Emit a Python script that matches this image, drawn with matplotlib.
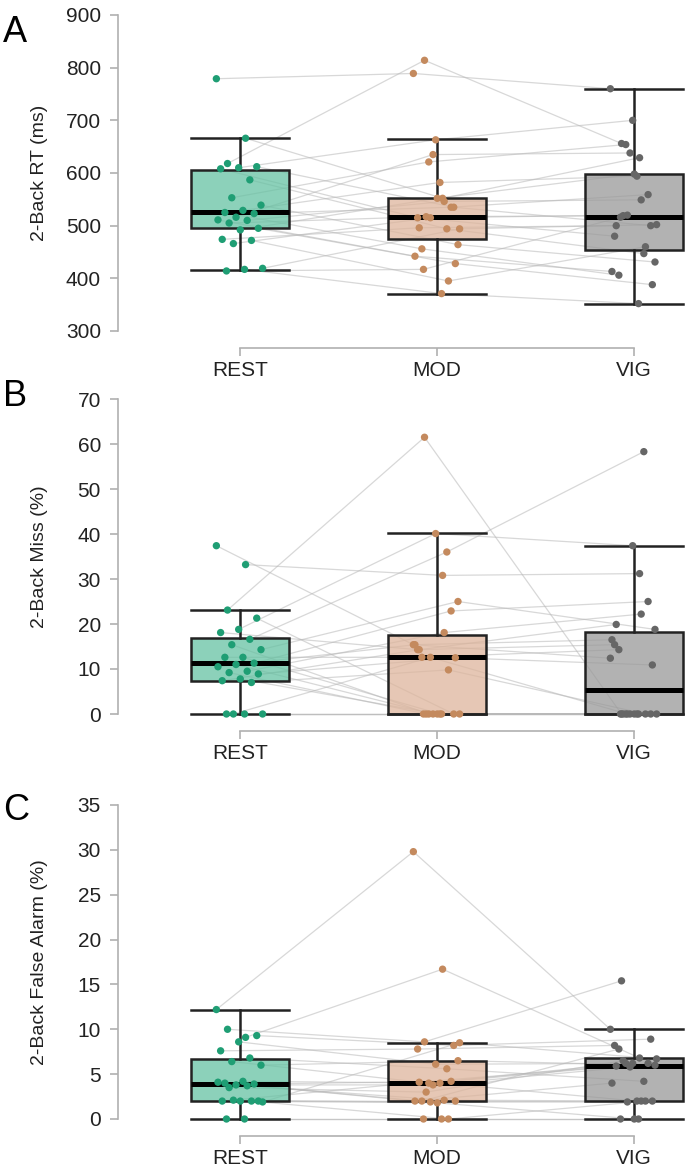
import numpy as np
import matplotlib
matplotlib.use("Agg")
import matplotlib.pyplot as plt

plt.rcParams["font.family"] = ["Liberation Sans", "DejaVu Sans"]

# -----------------------------
# Data
# -----------------------------
conditions = ["REST", "MOD", "VIG"]

# Panel A: 2-Back RT (ms), one value per subject, subject order shared
rt_rest = [779, 666, 618, 612, 610, 608, 587, 553, 539, 529, 525, 523,
           516, 511, 510, 505, 495, 492, 474, 472, 466, 419, 417, 414]
rt_mod = [789, 552, 814, 535, 663, 515, 494, 621, 464, 582, 456, 535,
          635, 442, 546, 517, 428, 552, 496, 395, 515, 494, 371, 417]
rt_vig = [760, 629, 656, 500, 700, 480, 447, 654, 431, 594, 406, 559,
          638, 413, 549, 519, 388, 598, 500, 460, 520, 502, 352, 516]

# Panel B: 2-Back Miss (%)
miss_rest = [37.4, 33.2, 23.1, 21.3, 18.8, 18.1, 16.6, 15.4, 14.3, 12.6, 12.6, 11.3,
             11.0, 10.5, 9.5, 9.2, 8.9, 7.8, 7.4, 7.0, 0, 0, 0, 0]
miss_mod = [15.4, 30.8, 61.5, 0, 40.1, 14.3, 36.0, 0, 25.0, 0, 12.6, 22.9,
            0, 15.4, 18.1, 0, 12.5, 0, 14.3, 9.8, 12.6, 0, 0, 0]
miss_vig = [12.4, 31.2, 0, 0, 37.4, 15.4, 58.3, 0, 18.8, 0, 14.3, 25.0,
            0, 16.5, 22.2, 0, 10.9, 0, 19.9, 0, 0, 0, 0, 0]

# Panel C: 2-Back False Alarm (%)
fa_rest = [12.2, 9.1, 10.0, 9.3, 8.6, 7.6, 6.8, 6.4, 6.0, 4.2, 4.0, 3.9,
           3.8, 4.1, 3.7, 3.5, 2.0, 2.0, 2.0, 2.0, 2.1, 1.9, 0, 0]
fa_mod = [29.8, 16.7, 8.6, 8.2, 6.1, 7.8, 5.6, 4.0, 6.5, 4.0, 2.0, 4.2,
          3.8, 2.0, 2.1, 3.0, 2.0, 1.8, 4.1, 0, 1.9, 8.5, 0, 0]
fa_vig = [10.0, 6.8, 15.4, 8.9, 6.2, 8.2, 4.2, 6.2, 6.0, 2.0, 7.8, 6.2,
          5.8, 4.0, 2.0, 6.5, 2.0, 0, 5.9, 2.0, 1.9, 6.7, 0, 0]

# Box statistics as drawn in the figure (q1, median, q3, whisker low/high)
rt_q1 = [495, 474, 453]
rt_med = [526, 517, 517]
rt_q3 = [606, 553, 599]
rt_lo = [415, 371, 352]
rt_hi = [667, 665, 760]

miss_q1 = [7.4, 0, 0]
miss_med = [11.3, 12.6, 5.4]
miss_q3 = [16.8, 17.6, 18.2]
miss_lo = [0, 0, 0]
miss_hi = [23.1, 40.2, 37.4]

fa_q1 = [2.0, 2.06, 2.0]
fa_med = [3.9, 4.0, 5.9]
fa_q3 = [6.7, 6.5, 6.8]
fa_lo = [0, 0, 0]
fa_hi = [12.2, 8.5, 10.0]

# -----------------------------
# Style
# -----------------------------
point_colors = ["#1f9e74", "#c48a5e", "#666666"]
box_colors = [(0.40, 0.76, 0.64, 0.75), (0.87, 0.71, 0.61, 0.75), (0.60, 0.60, 0.60, 0.75)]
spine_col = "#b0b0b0"
text_col = "#222222"

W, H = 693, 1170
left_px, right_px = 118, 693
cat_x0, cat_dx = 240, 197


def jitter(n):
    # fixed spread pattern so points do not sit on one line
    return np.array([((i * 0.618) % 1.0) - 0.5 for i in range(n)]) * 0.24


def draw_panel(ax, series, q1, med, q3, lo, hi, yticks):
    xs = np.arange(len(series))
    offs = [jitter(len(s)) for s in series]
    # connect each subject across conditions
    n = len(series[0])
    for i in range(n):
        px = [xs[k] + offs[k][i] for k in range(len(series))]
        py = [series[k][i] for k in range(len(series))]
        ax.plot(px, py, color="#b8b8b8", lw=0.9, alpha=0.55, zorder=1, clip_on=False)

    stats = []
    for k in range(len(series)):
        stats.append({"q1": q1[k], "med": med[k], "q3": q3[k],
                      "whislo": lo[k], "whishi": hi[k], "fliers": []})
    bp = ax.bxp(stats, positions=xs, widths=0.5, patch_artist=True,
                showfliers=False,
                boxprops=dict(edgecolor="#222222", linewidth=1.8),
                whiskerprops=dict(color="#222222", linewidth=1.8),
                capprops=dict(color="#222222", linewidth=1.8),
                medianprops=dict(color="black", linewidth=3.6, solid_capstyle="butt"),
                capwidths=0.5, zorder=2)
    for patch, c in zip(bp["boxes"], box_colors):
        patch.set_facecolor(c)
    for key in ("boxes", "whiskers", "caps", "medians"):
        for art in bp[key]:
            art.set_clip_on(False)

    for k, s in enumerate(series):
        ax.scatter(xs[k] + offs[k], s, s=28, color=point_colors[k],
                   edgecolors="none", zorder=3, clip_on=False)

    ax.set_xlim(-(cat_x0 - left_px) / cat_dx, 2 + (right_px - (cat_x0 + 2 * cat_dx)) / cat_dx)
    ax.set_ylim(yticks[0], yticks[-1])
    ax.set_yticks(yticks)
    ax.set_xticks(xs)
    ax.set_xticklabels(conditions)
    for side in ("top", "right"):
        ax.spines[side].set_visible(False)
    ax.spines["left"].set_bounds(yticks[0], yticks[-1])
    ax.spines["bottom"].set_bounds(0, 2)
    ax.spines["bottom"].set_position(("outward", 12.5))
    for side in ("left", "bottom"):
        ax.spines[side].set_color(spine_col)
        ax.spines[side].set_linewidth(1.2)
    ax.tick_params(axis="y", length=5.8, width=1.2, color=spine_col,
                   labelsize=15, labelcolor=text_col, pad=6.5)
    ax.tick_params(axis="x", length=5.8, width=1.2, color=spine_col,
                   labelsize=15, labelcolor=text_col, pad=3)


# -----------------------------
# Figure
# -----------------------------
fig = plt.figure(figsize=(W / 100, H / 100), dpi=100)

panels = [
    ("A", 15, 331, "2-Back RT (ms)", [rt_rest, rt_mod, rt_vig],
     (rt_q1, rt_med, rt_q3, rt_lo, rt_hi), list(range(300, 901, 100)), 15),
    ("B", 399, 714, "2-Back Miss (%)", [miss_rest, miss_mod, miss_vig],
     (miss_q1, miss_med, miss_q3, miss_lo, miss_hi), list(range(0, 71, 10)), 379),
    ("C", 805, 1119, "2-Back False Alarm (%)", [fa_rest, fa_mod, fa_vig],
     (fa_q1, fa_med, fa_q3, fa_lo, fa_hi), list(range(0, 36, 5)), 793),
]

for letter, top, bottom, ylabel, series, box, yticks, letter_top in panels:
    ax = fig.add_axes([left_px / W, 1 - bottom / H,
                       (right_px - left_px) / W, (bottom - top) / H])
    draw_panel(ax, series, *box, yticks)
    fig.text(3 / W, 1 - letter_top / H, letter, fontsize=26,
             color="black", ha="left", va="top")
    fig.text(40 / W, 1 - (top + bottom) / 2 / H, ylabel, fontsize=14,
             color=text_col, rotation=90, ha="center", va="center")

fig.savefig("out.png", dpi=100)
